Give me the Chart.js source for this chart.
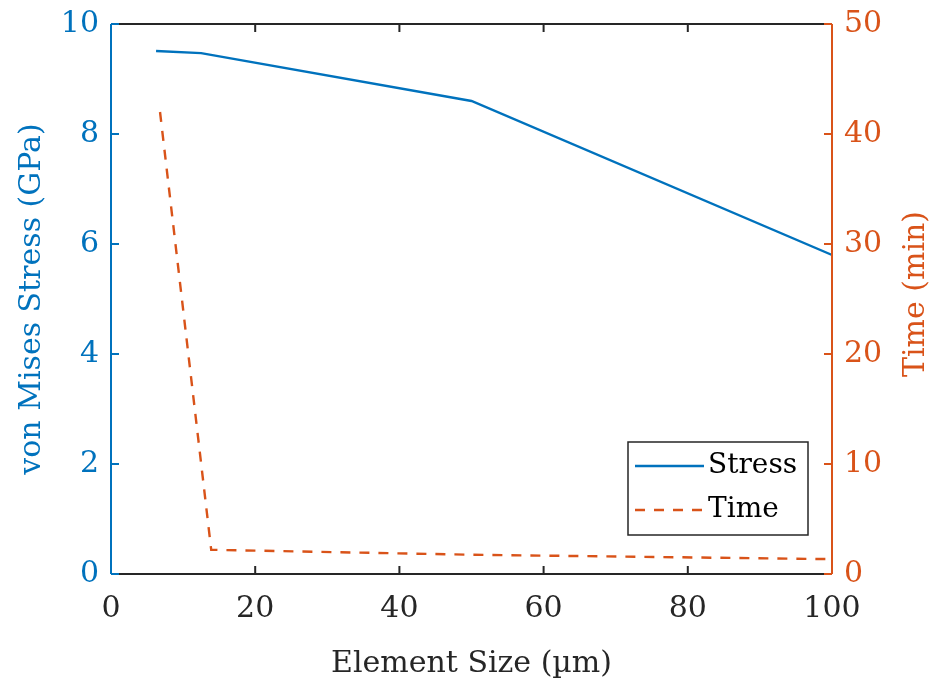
<!DOCTYPE html>
<html>
<head>
<meta charset="utf-8">
<script src="https://cdn.jsdelivr.net/npm/chart.js@4"></script>
<style>
  html, body { margin: 0; padding: 0; background: #fff; }
  #wrap { width: 940px; height: 686px; }
</style>
</head>
<body>
<div id="wrap"><canvas id="chart" width="940" height="686"></canvas></div>
<script>
// data
const stressSize = [6.25, 12.5, 50, 100];
const stressGPa = [9.51, 9.47, 8.6, 5.8];
const timeSize = [6.8, 13.9, 50, 100];
const timeMin = [42, 2.2, 1.75, 1.35];

const xTicks = [0, 20, 40, 60, 80, 100];
const leftTicks = [0, 2, 4, 6, 8, 10];
const rightTicks = [0, 10, 20, 30, 40, 50];

const BLUE = '#0072BD';
const ORANGE = '#D95319';
const DARK = '#262626';
const FONT = '"DejaVu Serif", serif';
const FS = 30;

// axis box with inward ticks, like the MATLAB look
const axesBox = {
    id: 'axesBox',
    afterDatasetsDraw(chart) {
        const {ctx, chartArea: a, scales} = chart;
        const len = 8;
        ctx.save();
        ctx.lineWidth = 2;

        ctx.strokeStyle = DARK;
        ctx.beginPath();
        ctx.moveTo(a.left, a.top); ctx.lineTo(a.right, a.top);
        ctx.moveTo(a.left, a.bottom); ctx.lineTo(a.right, a.bottom);
        xTicks.forEach(v => {
            const px = scales.x.getPixelForValue(v);
            ctx.moveTo(px, a.bottom); ctx.lineTo(px, a.bottom - len);
            ctx.moveTo(px, a.top); ctx.lineTo(px, a.top + len);
        });
        ctx.stroke();

        ctx.strokeStyle = BLUE;
        ctx.beginPath();
        ctx.moveTo(a.left, a.top); ctx.lineTo(a.left, a.bottom);
        leftTicks.forEach(v => {
            const py = scales.y.getPixelForValue(v);
            ctx.moveTo(a.left, py); ctx.lineTo(a.left + len, py);
        });
        ctx.stroke();

        ctx.strokeStyle = ORANGE;
        ctx.beginPath();
        ctx.moveTo(a.right, a.top); ctx.lineTo(a.right, a.bottom);
        rightTicks.forEach(v => {
            const py = scales.y2.getPixelForValue(v);
            ctx.moveTo(a.right, py); ctx.lineTo(a.right - len, py);
        });
        ctx.stroke();

        // right axis title reads bottom-to-top, same as the left one
        ctx.fillStyle = ORANGE;
        ctx.font = FS + 'px ' + FONT;
        ctx.textAlign = 'center';
        ctx.textBaseline = 'middle';
        ctx.translate(916, (a.top + a.bottom) / 2 - 5);
        ctx.rotate(-Math.PI / 2);
        ctx.fillText('Time (min)', 0, 0);
        ctx.restore();
    }
};

// legend box in the lower right of the plot
const boxLegend = {
    id: 'boxLegend',
    afterDraw(chart) {
        const {ctx} = chart;
        const x = 628, y = 442, w = 180, h = 93;
        ctx.save();
        ctx.fillStyle = '#fff';
        ctx.fillRect(x, y, w, h);
        ctx.strokeStyle = DARK;
        ctx.lineWidth = 1.5;
        ctx.strokeRect(x, y, w, h);
        ctx.font = '28px ' + FONT;
        ctx.textBaseline = 'middle';
        chart.data.datasets.forEach((ds, i) => {
            const cy = y + 24 + i * 44;
            ctx.strokeStyle = ds.borderColor;
            ctx.lineWidth = 2.4;
            ctx.setLineDash(ds.borderDash || []);
            ctx.beginPath();
            ctx.moveTo(x + 7, cy);
            ctx.lineTo(x + 76, cy);
            ctx.stroke();
            ctx.setLineDash([]);
            ctx.fillStyle = '#000';
            ctx.fillText(ds.label, x + 80, cy);
        });
        ctx.restore();
    }
};

const fitY = w => s => { s.width = w; s.paddingTop = 0; s.paddingBottom = 0; };

new Chart(document.getElementById('chart'), {
    type: 'line',
    data: {
        datasets: [{
            label: 'Stress',
            data: stressSize.map((s, i) => ({x: s, y: stressGPa[i]})),
            borderColor: BLUE,
            borderWidth: 2.4,
            pointRadius: 0,
            yAxisID: 'y'
        }, {
            label: 'Time',
            data: timeSize.map((s, i) => ({x: s, y: timeMin[i]})),
            borderColor: ORANGE,
            borderWidth: 2.4,
            borderDash: [10, 9],
            pointRadius: 0,
            yAxisID: 'y2'
        }]
    },
    options: {
        responsive: false,
        animation: false,
        layout: {padding: {top: 24, left: 0, right: 0, bottom: 0}},
        plugins: {legend: {display: false}, tooltip: {enabled: false}},
        scales: {
            x: {
                type: 'linear',
                min: 0, max: 100,
                afterBuildTicks: s => { s.ticks = xTicks.map(v => ({value: v})); },
                afterFit: s => { s.height = 112; s.paddingLeft = 0; s.paddingRight = 0; },
                grid: {display: false, drawTicks: false},
                border: {display: false},
                ticks: {color: DARK, padding: 17, font: {family: FONT, size: FS}},
                title: {display: true, text: 'Element Size (µm)', color: DARK,
                        padding: {top: 2}, font: {family: FONT, size: FS}}
            },
            y: {
                position: 'left',
                min: 0, max: 10,
                afterBuildTicks: s => { s.ticks = leftTicks.map(v => ({value: v})); },
                afterFit: fitY(111),
                grid: {display: false, drawTicks: false},
                border: {display: false},
                ticks: {color: BLUE, padding: 12, font: {family: FONT, size: FS}},
                title: {display: true, text: 'von Mises Stress (GPa)', color: BLUE,
                        padding: {bottom: 0, top: 14}, font: {family: FONT, size: FS}}
            },
            y2: {
                position: 'right',
                min: 0, max: 50,
                afterBuildTicks: s => { s.ticks = rightTicks.map(v => ({value: v})); },
                afterFit: fitY(108),
                grid: {display: false, drawTicks: false},
                border: {display: false},
                ticks: {color: ORANGE, padding: 12, font: {family: FONT, size: FS}},
                title: {display: false}
            }
        }
    },
    plugins: [axesBox, boxLegend]
});
</script>
</body>
</html>
